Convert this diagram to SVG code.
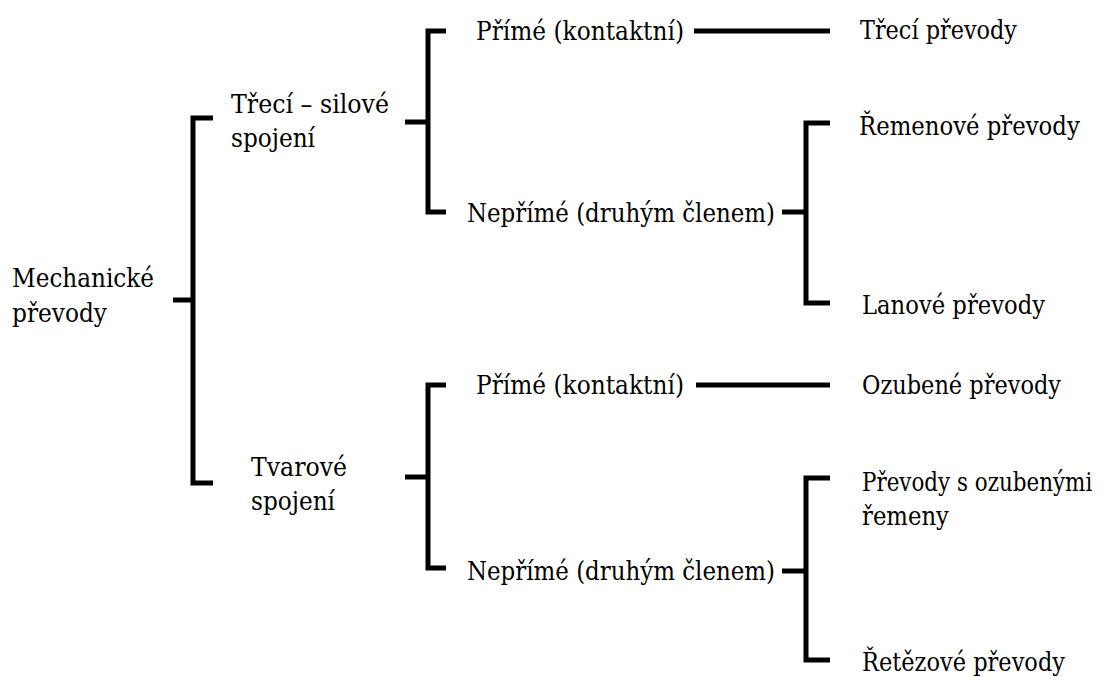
<svg xmlns="http://www.w3.org/2000/svg" width="1108" height="677" viewBox="0 0 1108 677">
<style>
text{font-family:"DejaVu Serif","Liberation Serif",serif;font-size:26px;fill:#000}
.c{fill:none;stroke:#000;stroke-width:5;stroke-linejoin:miter;stroke-linecap:butt}
</style>
<rect width="1108" height="677" fill="#fff"/>
<g id="connectors">
<path class="c" d="M213 118 H193 V483 H213 M173 300 H193"/>
<path class="c" d="M446 31 H428 V212 H446 M405 122 H428"/>
<path class="c" d="M694 31 H830"/>
<path class="c" d="M830 123 H806 V303 H830 M782 212 H806"/>
<path class="c" d="M446 385 H428 V568 H446 M405 477 H428"/>
<path class="c" d="M696 385 H830"/>
<path class="c" d="M830 478 H806 V660 H830 M782 571 H806"/>
</g>
<g id="n-mech"><text x="12" y="287" textLength="142" lengthAdjust="spacingAndGlyphs">Mechanické</text><text x="12" y="322" textLength="95" lengthAdjust="spacingAndGlyphs">převody</text></g>
<g id="n-treci"><text x="231" y="113" textLength="158" lengthAdjust="spacingAndGlyphs">Třecí – silové</text><text x="231" y="147" textLength="84" lengthAdjust="spacingAndGlyphs">spojení</text></g>
<g id="n-tvar"><text x="251" y="476" textLength="96" lengthAdjust="spacingAndGlyphs">Tvarové</text><text x="251" y="510" textLength="84" lengthAdjust="spacingAndGlyphs">spojení</text></g>
<g id="n-prime1"><text x="476" y="40" textLength="208" lengthAdjust="spacingAndGlyphs">Přímé (kontaktní)</text></g>
<g id="n-neprime1"><text x="467" y="222" textLength="308" lengthAdjust="spacingAndGlyphs">Nepřímé (druhým členem)</text></g>
<g id="n-prime2"><text x="476" y="394" textLength="208" lengthAdjust="spacingAndGlyphs">Přímé (kontaktní)</text></g>
<g id="n-neprime2"><text x="467" y="580" textLength="308" lengthAdjust="spacingAndGlyphs">Nepřímé (druhým členem)</text></g>
<g id="n-trecipr"><text x="860" y="39" textLength="157" lengthAdjust="spacingAndGlyphs">Třecí převody</text></g>
<g id="n-remen"><text transform="matrix(0.8 0 0 1 859 135)" x="0" y="0" textLength="276" lengthAdjust="spacingAndGlyphs">Řemenové převody</text></g>
<g id="n-lan"><text x="862" y="314" textLength="183" lengthAdjust="spacingAndGlyphs">Lanové převody</text></g>
<g id="n-ozub"><text x="862" y="394" textLength="199" lengthAdjust="spacingAndGlyphs">Ozubené převody</text></g>
<g id="n-ozubrem"><text transform="matrix(0.75 0 0 1 862 491)" x="0" y="0" textLength="307" lengthAdjust="spacingAndGlyphs">Převody s ozubenými</text><text x="862" y="525" textLength="87" lengthAdjust="spacingAndGlyphs">řemeny</text></g>
<g id="n-retez"><text x="862" y="671" textLength="203" lengthAdjust="spacingAndGlyphs">Řetězové převody</text></g>
</svg>
